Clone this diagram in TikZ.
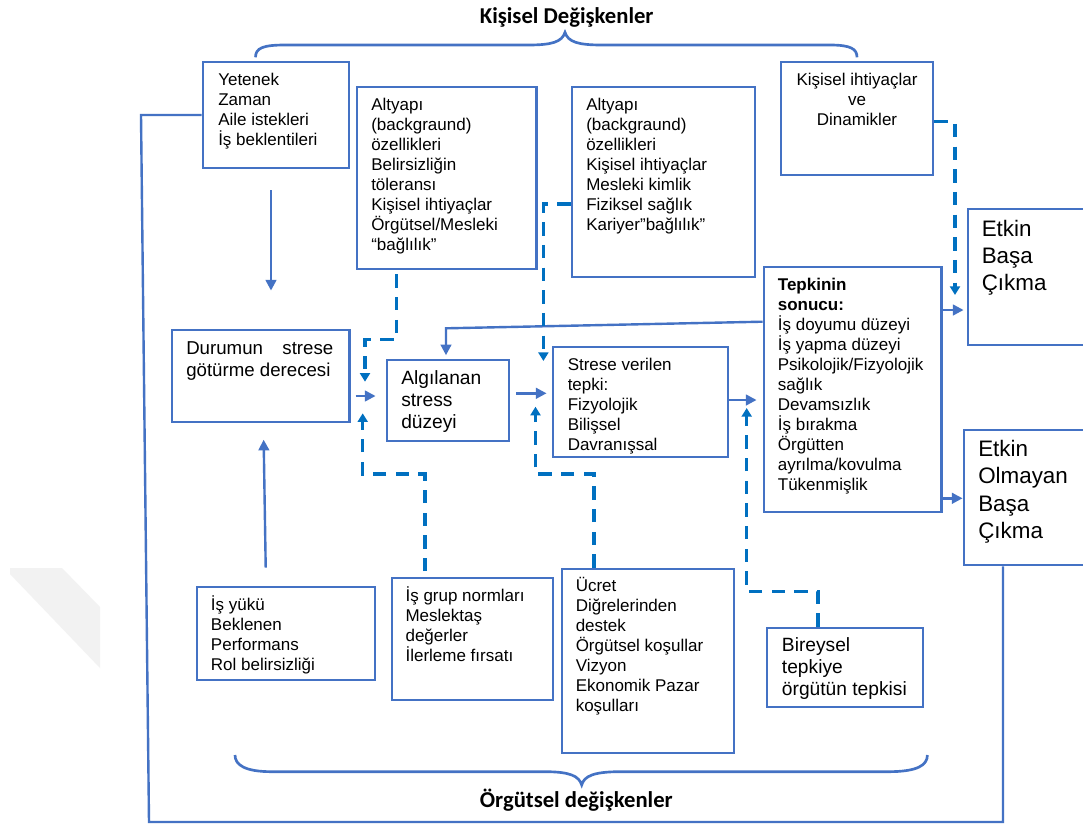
\documentclass[tikz,border=0pt]{standalone}
\usepackage{fontspec}
\setmainfont{Liberation Sans}
\newfontfamily\headfont{Carlito}
\usetikzlibrary{arrows.meta,fit}

\definecolor{boxblue}{HTML}{4472C4}
\definecolor{dashblue}{HTML}{0070C0}

% font sizes (1 px = 0.75 pt)
\newcommand\bodyfs{\fontsize{12.75pt}{15pt}\selectfont}
\newcommand\bigfs{\fontsize{16.8pt}{20.4pt}\selectfont}
\newcommand\midfs{\fontsize{14.4pt}{16.6pt}\selectfont}
\newcommand\durfs{\fontsize{14pt}{16.8pt}\selectfont}
\newcommand\headfs{\headfont\bfseries\fontsize{17pt}{20pt}\selectfont}

% stacked lines of text, first baseline on the node's base
\newcommand\stack[2]{\parbox[t]{#1}{\raggedright #2}}

% framed box from its two corners
\newcommand\mkbox[5]{%
  \coordinate (#1-a) at (#2,#3);
  \coordinate (#1-b) at (#4,#5);
  \node[box, fit=(#1-a)(#1-b)] (#1) {};}

\begin{document}
\begin{tikzpicture}[x=0.75pt,y=-0.75pt,
  box/.style={draw=boxblue, line width=2.2pt, inner sep=0pt},
  txt/.style={anchor=base west, inner sep=0pt, text=black},
  conn/.style={draw=boxblue, line width=1.8pt},
  arr/.style={conn, -{Triangle[length=8pt,width=8pt]}},
  dconn/.style={draw=dashblue, line width=2.5pt, dash pattern=on 10pt off 7pt,
                -{Triangle[length=6.5pt,width=7.5pt]}},
  brace/.style={draw=boxblue, line width=2pt},
]
\useasboundingbox (0,0) rectangle (1083,826);
\clip (0,0) rectangle (1083,826);
\fill[white] (0,0) rectangle (1083,826);

% faint mark in the lower left corner
\fill[gray!10] (10,568) -- (62,568) -- (100,607) -- (100,668) -- (10,574) -- cycle;

% headings and braces
\node[anchor=base, inner sep=0pt, font=\headfs] (ttop) at (566.7,23.3) {Kişisel Değişkenler};
\node[anchor=base, inner sep=0pt, font=\headfs] (tbot) at (576.3,807.3) {Örgütsel değişkenler};

\draw[brace] (255.5,57.3) .. controls (255.5,48) and (263,45) .. (285,45)
  -- (528,45) .. controls (552,45) and (562,42) .. (565,32.3)
  .. controls (568,42) and (578,45) .. (602,45)
  -- (830,45) .. controls (851,45) and (857,49) .. (857,57.3);
\draw[brace] (235,755) .. controls (235,765) and (245,771.7) .. (272,771.7)
  -- (545,771.7) .. controls (570,771.7) and (579,776) .. (581.7,785)
  .. controls (584,776) and (594,771.7) .. (620,771.7)
  -- (888,771.7) .. controls (918,771.7) and (927.4,765) .. (927.4,755);

% boxes
\mkbox{yet}{203}{62}{349}{168}
\mkbox{alt1}{357}{87}{536.5}{269}
\mkbox{alt2}{572}{87}{755}{277}
\mkbox{kis}{781}{62}{933}{175}
\mkbox{etk}{968}{209}{1092}{345}
\mkbox{tep}{764}{267}{941.5}{512}
\mkbox{dur}{172}{330}{349.5}{422}
\mkbox{alg}{387}{360}{509}{441}
\mkbox{str}{553}{347}{728}{457}
\mkbox{eto}{964}{430}{1092}{565}
\mkbox{isy}{197}{587}{375}{680}
\mkbox{isg}{392}{578}{553}{700}
\mkbox{ucr}{562}{569}{734}{753}
\mkbox{bir}{767}{628}{923}{707}

% texts
\node[txt] (yet-t) at (218,85) {\bodyfs\stack{110pt}{Yetenek\\Zaman\\Aile istekleri\\İş beklentileri}};
\node[txt] (alt1-t) at (371,110) {\bodyfs\stack{130pt}{Altyapı\\(backgraund)\\özellikleri\\Belirsizliğin\\töleransı\\Kişisel ihtiyaçlar\\Örgütsel/Mesleki\\“bağlılık”}};
\node[txt] (alt2-t) at (586,110) {\bodyfs\stack{130pt}{Altyapı\\(backgraund)\\özellikleri\\Kişisel ihtiyaçlar\\Mesleki kimlik\\Fiziksel sağlık\\Kariyer”bağlılık”}};
\node[anchor=base, inner sep=0pt] (kis-t) at (857,85) {\bodyfs\parbox[t]{105pt}{\centering Kişisel ihtiyaçlar\\ve\\Dinamikler}};
\node[txt] (etk-t) at (981.5,236) {\bigfs\stack{80pt}{Etkin\\Başa\\Çıkma}};
\node[txt] (tep-t) at (777.6,290) {\bodyfs\stack{130pt}{\textbf{Tepkinin}\\\textbf{sonucu:}\\İş doyumu düzeyi\\İş yapma düzeyi\\Psikolojik/Fizyolojik\\sağlık\\Devamsızlık\\İş bırakma\\Örgütten\\ayrılma/kovulma\\Tükenmişlik}};
\node[txt] (dur-t) at (186,354.3) {\durfs\parbox[t]{110.25pt}{Durumun\hfill strese\\götürme derecesi}};
\node[txt] (alg-t) at (401,384) {\midfs\stack{80pt}{Algılanan\\stress\\düzeyi}};
\node[txt] (str-t) at (567.5,370) {\bodyfs\stack{120pt}{Strese verilen\\tepki:\\Fizyolojik\\Bilişsel\\Davranışsal}};
\node[txt] (eto-t) at (978,456.7) {\bigfs\stack{80pt}{Etkin\\Olmayan\\Başa\\Çıkma}};
\node[txt] (isy-t) at (210.7,610) {\bodyfs\stack{120pt}{İş yükü\\Beklenen\\Performans\\Rol belirsizliği}};
\node[txt] (isg-t) at (405.3,601.7) {\bodyfs\stack{115pt}{İş grup normları\\Meslektaş\\değerler\\İlerleme fırsatı}};
\node[txt] (ucr-t) at (575.5,591.7) {\bodyfs\stack{125pt}{Ücret\\Diğrelerinden\\destek\\Örgütsel koşullar\\Vizyon\\Ekonomik Pazar\\koşulları}};
\node[txt] (bir-t) at (781.7,651.7) {\midfs\stack{115pt}{Bireysel\\tepkiye\\örgütün tepkisi}};

% solid connectors
\draw[conn] (yet.west) -- (141,115) -- (149,822) -- (1003,822) -- (1003,822 |- eto.south);
\draw[arr, shorten <=15.75pt, shorten >=28.5pt] (yet.south -| 271,0) -- (dur.north -| 271,0);
\draw[arr, shorten <=13.5pt, shorten >=12.2pt] (isy.north -| 266,0) -- (dur.south -| 263.4,0);
\draw[arr, shorten <=3.4pt, shorten >=7.5pt] (dur.east |- 0,396) -- (alg.west |- 0,396);
\draw[arr, shorten <=4.5pt, shorten >=3.75pt] (alg.east |- 0,393.3) -- (str.west |- 0,393.3);
\draw[arr, shorten >=4.5pt] (str.east |- 0,400) -- (tep.west |- 0,400);
\draw[arr, shorten >=2.25pt] (tep.east |- 0,310) -- (etk.west |- 0,310);
\draw[arr] (tep.east |- 0,498.3) -- (eto.west |- 0,498.3);
\draw[arr, shorten >=2.5pt] (tep.west |- 0,321.7) -- (446,328.3) -- (446,0 |- alg.north);

% dashed connectors and their free ends
\coordinate (m1) at (365,381.7);
\coordinate (m2) at (543.4,361);
\coordinate (m3) at (955,295);
\coordinate (m4) at (362.7,413.3);
\coordinate (m5) at (535.5,406.7);
\coordinate (m6) at (746.7,408);
\draw[dconn, shorten <=3pt] (alt1.south -| 396.7,0) -- (396.7,339.3) -- (365,339.3) -- (m1);
\draw[dconn] (alt2.west |- 0,204) -- (543.4,204) -- (m2);
\draw[dconn] (kis.east |- 0,121.7) -- (955,121.7) -- (m3);
\draw[dconn, shorten <=4pt] (isg.north -| 425,0) -- (425,474) -- (362.7,474) -- (m4);
\draw[dconn] (ucr.north -| 594,0) -- (594,474) -- (535.5,474) -- (m5);
\draw[dconn] (bir.north -| 818,0) -- (818,591.7) -- (746.7,591.7) -- (m6);
\end{tikzpicture}
\end{document}
